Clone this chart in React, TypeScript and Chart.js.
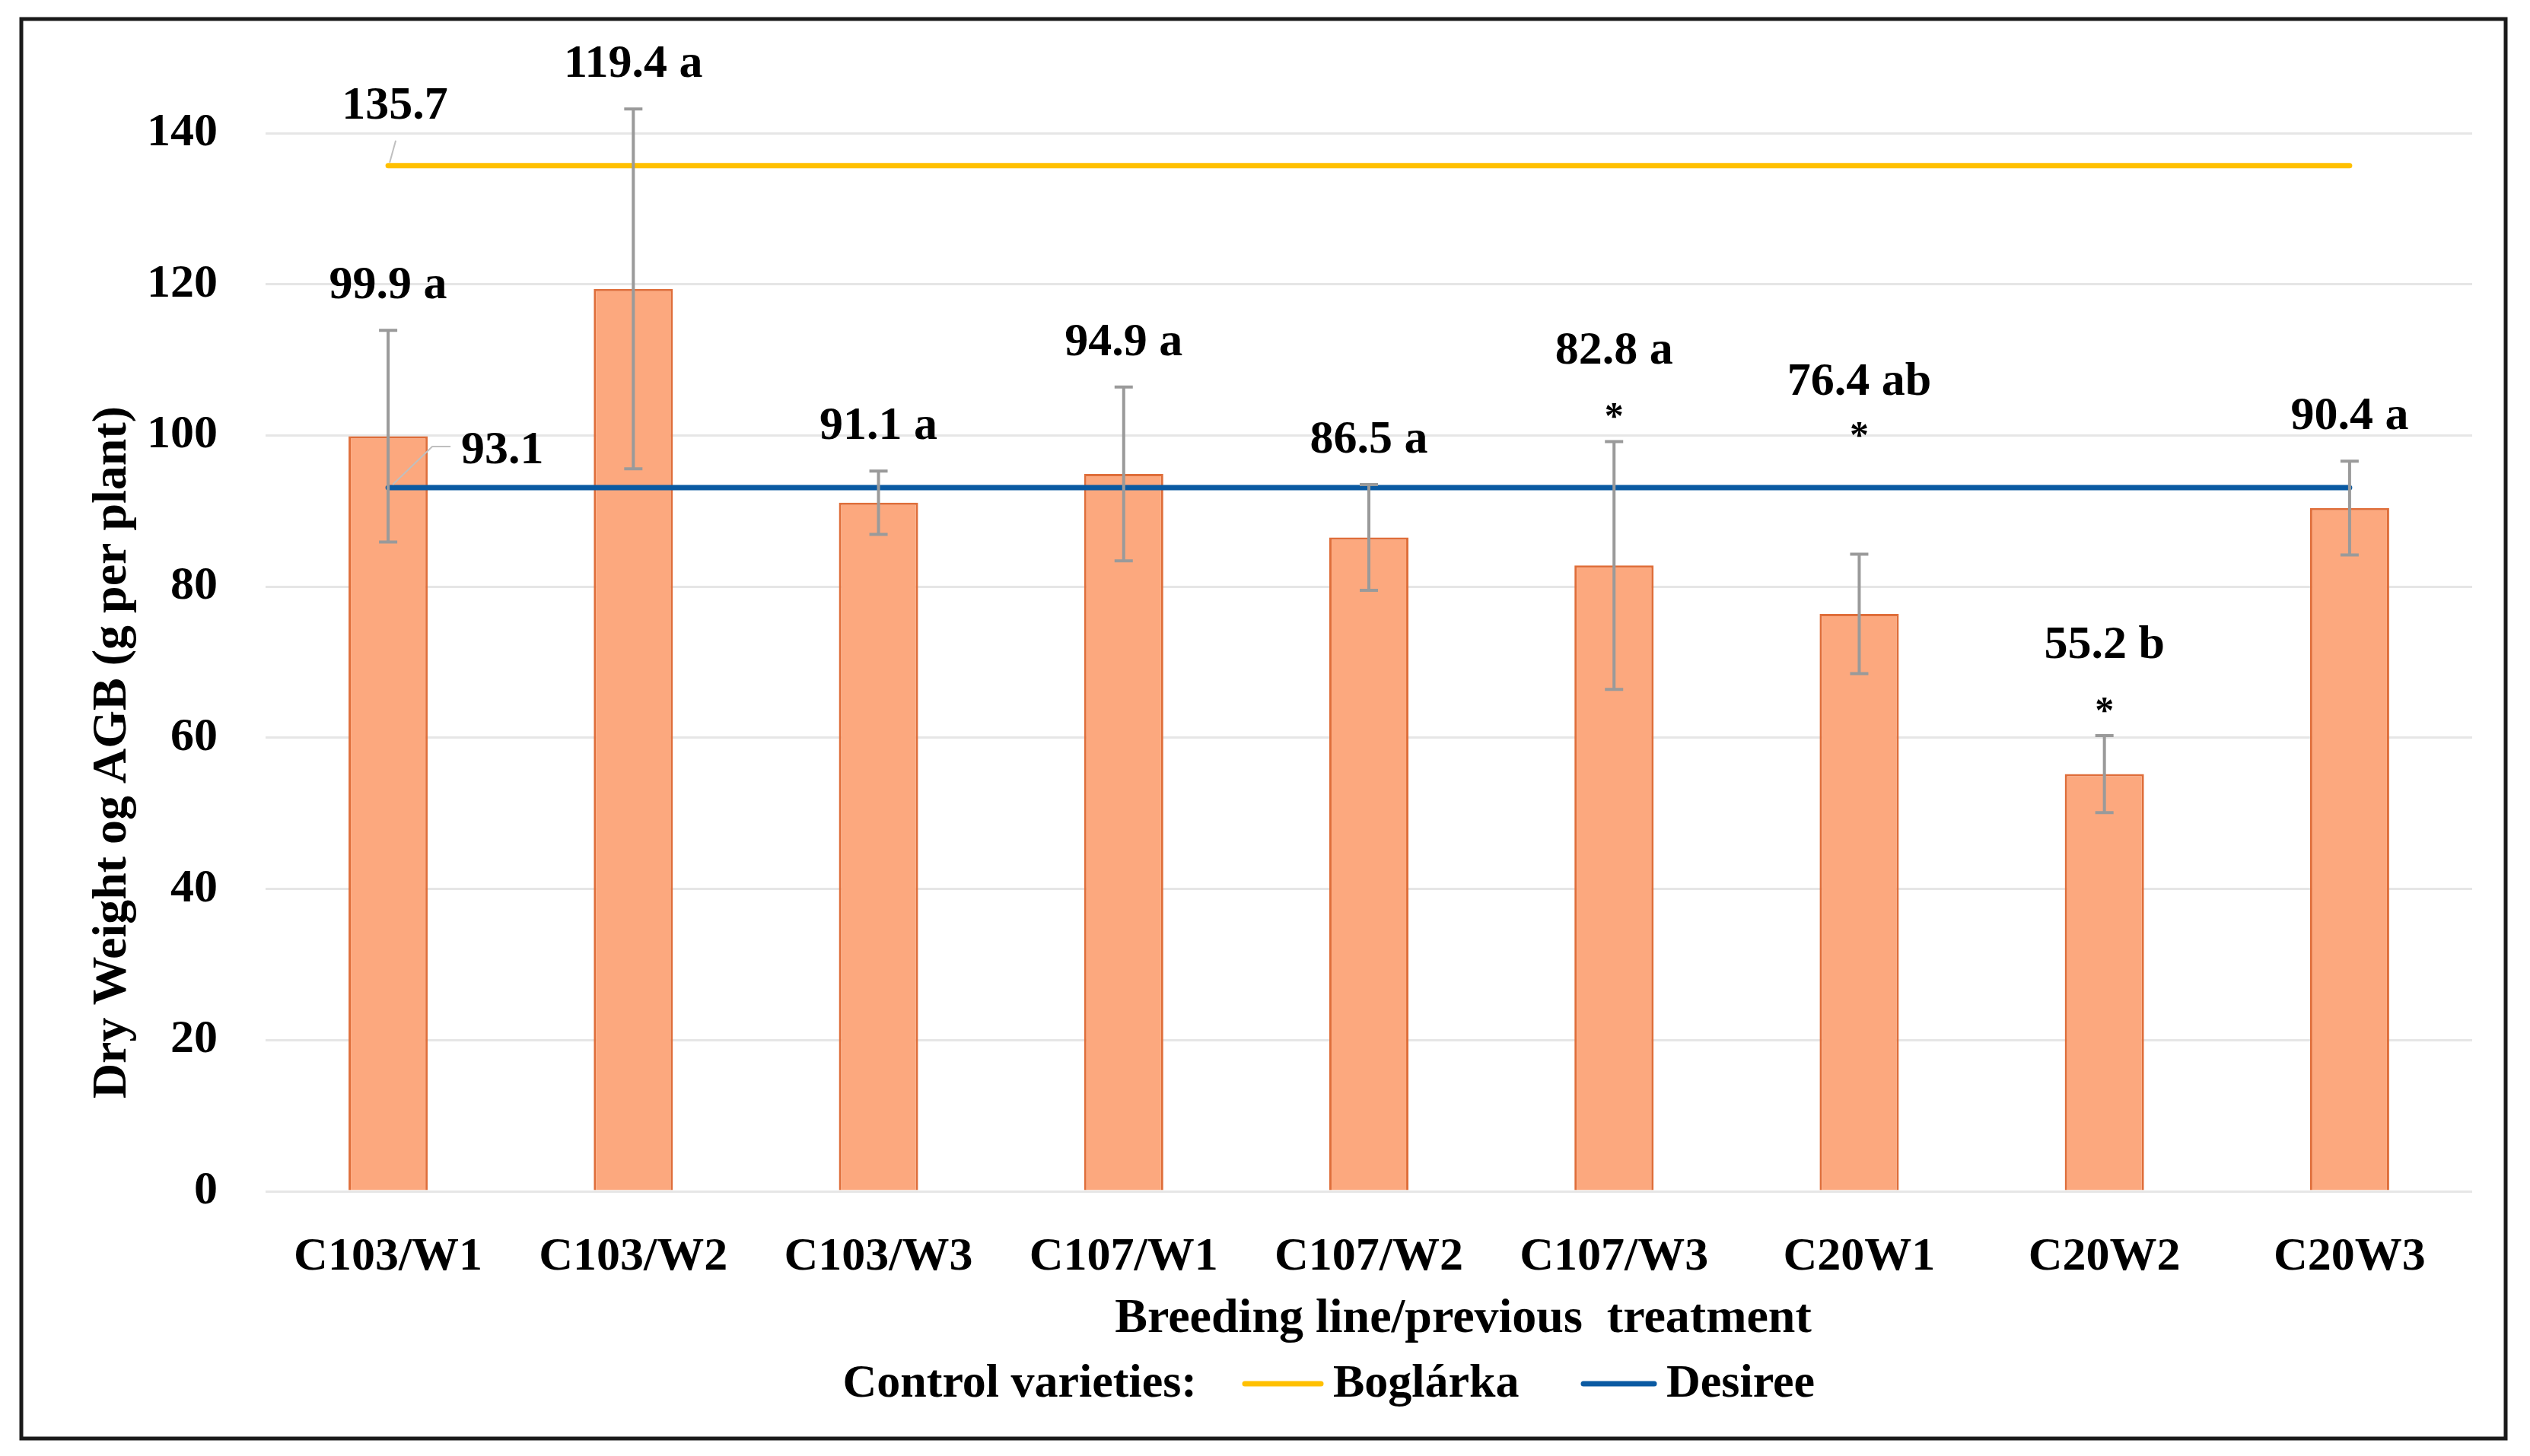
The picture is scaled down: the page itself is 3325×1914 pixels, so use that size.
import React, { useEffect, useRef } from "react";
import { Chart, registerables } from "chart.js";

Chart.register(...registerables);

const categories = ["C103/W1", "C103/W2", "C103/W3", "C107/W1", "C107/W2", "C107/W3", "C20W1", "C20W2", "C20W3"];
const dryWeight = [99.9, 119.4, 91.1, 94.9, 86.5, 82.8, 76.4, 55.2, 90.4];
const errorSize = [14.0, 23.8, 4.2, 11.5, 7.0, 16.4, 7.9, 5.1, 6.2];
const groupLetters = ["a", "a", "a", "a", "a", "a", "ab", "b", "a"];
const significant = [false, false, false, false, false, true, true, true, false];
const boglarka = [135.7, 135.7, 135.7, 135.7, 135.7, 135.7, 135.7, 135.7, 135.7];
const desiree = [93.1, 93.1, 93.1, 93.1, 93.1, 93.1, 93.1, 93.1, 93.1];
const yTicks = [0, 20, 40, 60, 80, 100, 120, 140];
const controlLabels = ["Boglárka", "Desiree"];

const W = 3325;
const H = 1914;
const FONT = "'Liberation Serif', 'Times New Roman', serif";
const YELLOW = "#FFC000";
const BLUE = "#0A5AA2";

const annotPlugin = {
  id: "annot",
  afterDatasetsDraw(chart: any) {
    const ctx = chart.ctx;
    const ys = chart.scales.y;
    const barMeta = chart.getDatasetMeta(2);
    const dMeta = chart.getDatasetMeta(1);
    ctx.save();
    // error bars
    ctx.strokeStyle = "#9A9A9A";
    ctx.lineWidth = 4;
    barMeta.data.forEach((bar: any, i: number) => {
      const x = bar.x;
      const yt = ys.getPixelForValue(dryWeight[i] + errorSize[i]);
      const yb = ys.getPixelForValue(dryWeight[i] - errorSize[i]);
      ctx.beginPath();
      ctx.moveTo(x, yt);
      ctx.lineTo(x, yb);
      ctx.moveTo(x - 12, yt);
      ctx.lineTo(x + 12, yt);
      ctx.moveTo(x - 12, yb);
      ctx.lineTo(x + 12, yb);
      ctx.stroke();
    });
    // value labels (moved above the Desiree line when they would collide with it)
    ctx.fillStyle = "#000";
    ctx.textAlign = "center";
    ctx.textBaseline = "middle";
    barMeta.data.forEach((bar: any, i: number) => {
      const x = bar.x;
      const yt = ys.getPixelForValue(dryWeight[i] + errorSize[i]);
      const lineY = dMeta.data[i].y;
      const text = `${dryWeight[i].toFixed(1)} ${groupLetters[i]}`;
      ctx.font = `bold 62px ${FONT}`;
      if (significant[i]) {
        let starY = yt - 30;
        let labelY = yt - 118;
        if (labelY > lineY - 40 && labelY < lineY + 80) {
          starY = lineY - 66;
          labelY = starY - 72;
        }
        ctx.fillText(text, x, labelY);
        ctx.font = `bold 50px ${FONT}`;
        ctx.fillText("*", x, starY);
      } else {
        ctx.fillText(text, x, yt - 58);
      }
    });
    // control line labels with leader lines
    const bp = chart.getDatasetMeta(0).data[0];
    const dp = dMeta.data[0];
    ctx.strokeStyle = "#BFBFBF";
    ctx.lineWidth = 2;
    ctx.beginPath();
    ctx.moveTo(bp.x + 10, bp.y - 33);
    ctx.lineTo(bp.x + 2, bp.y - 4);
    ctx.stroke();
    ctx.beginPath();
    ctx.moveTo(dp.x + 6, dp.y - 4);
    ctx.lineTo(dp.x + 58, dp.y - 54);
    ctx.lineTo(dp.x + 82, dp.y - 54);
    ctx.stroke();
    ctx.font = `bold 62px ${FONT}`;
    ctx.textAlign = "center";
    ctx.fillText(boglarka[0].toFixed(1), bp.x + 9, bp.y - 78);
    ctx.textAlign = "left";
    ctx.fillText(desiree[0].toFixed(1), dp.x + 96, dp.y - 48);
    ctx.restore();
  },
  afterDraw(chart: any) {
    const ctx = chart.ctx;
    ctx.save();
    ctx.fillStyle = "#000";
    ctx.textAlign = "center";
    ctx.textBaseline = "middle";
    // y axis title
    ctx.font = `bold 64px ${FONT}`;
    ctx.save();
    ctx.translate(148, 989);
    ctx.rotate(-Math.PI / 2);
    ctx.fillText("Dry Weight og AGB (g per plant)", 0, 0);
    ctx.restore();
    // x axis title
    ctx.font = `bold 64px ${FONT}`;
    ctx.fillText("Breeding line/previous  treatment", 1923, 1734);
    // legend
    ctx.font = `bold 62px ${FONT}`;
    ctx.textAlign = "right";
    ctx.fillText("Control varieties:", 1573, 1820);
    ctx.textAlign = "left";
    ctx.lineCap = "round";
    ctx.lineWidth = 7;
    ctx.strokeStyle = YELLOW;
    ctx.beginPath();
    ctx.moveTo(1636, 1819);
    ctx.lineTo(1736, 1819);
    ctx.stroke();
    ctx.fillText(controlLabels[0], 1752, 1820);
    ctx.strokeStyle = BLUE;
    ctx.beginPath();
    ctx.moveTo(2081, 1819);
    ctx.lineTo(2174, 1819);
    ctx.stroke();
    ctx.fillText(controlLabels[1], 2190, 1820);
    // outer border
    ctx.lineCap = "butt";
    ctx.strokeStyle = "#1A1A1A";
    ctx.lineWidth = 5;
    ctx.strokeRect(28, 25, 3265, 1866);
    ctx.restore();
  },
};

export default function App() {
  const ref = useRef<HTMLCanvasElement | null>(null);
  useEffect(() => {
    if (!ref.current) return;
    const chart = new Chart(ref.current, {
      type: "bar",
      data: {
        labels: categories,
        datasets: [
          {
            type: "line",
            label: controlLabels[0],
            data: boglarka,
            borderColor: YELLOW,
            backgroundColor: YELLOW,
            borderWidth: 7,
            borderCapStyle: "round",
            pointRadius: 0,
            order: 1,
          } as any,
          {
            type: "line",
            label: controlLabels[1],
            data: desiree,
            borderColor: BLUE,
            backgroundColor: BLUE,
            borderWidth: 7,
            borderCapStyle: "round",
            pointRadius: 0,
            order: 1,
          } as any,
          {
            type: "bar",
            label: "Dry weight",
            data: dryWeight,
            backgroundColor: "#FCA87E",
            borderColor: "#DF6E3A",
            borderWidth: 3,
            categoryPercentage: 1,
            barPercentage: 0.323,
            order: 2,
          } as any,
        ],
      },
      options: {
        responsive: false,
        animation: false,
        devicePixelRatio: 1,
        layout: { padding: { left: 0, right: 76, top: 175, bottom: 0 } },
        plugins: {
          legend: { display: false },
          tooltip: { enabled: false },
        },
        scales: {
          x: {
            grid: { display: false, drawTicks: false },
            border: { display: false },
            ticks: {
              color: "#000",
              font: { family: FONT, size: 62, weight: "bold" },
              padding: 50,
              maxRotation: 0,
              autoSkip: false,
            },
            afterFit: (s: any) => {
              s.height = 1914 - 1566;
            },
          },
          y: {
            min: 0,
            max: 140,
            grid: { color: "#E6E6E6", lineWidth: 3, drawTicks: false },
            border: { display: false },
            ticks: {
              color: "#000",
              font: { family: FONT, size: 62, weight: "bold" },
              padding: 63,
            },
            afterBuildTicks: (s: any) => {
              s.ticks = yTicks.map((v) => ({ value: v }));
            },
            afterFit: (s: any) => {
              s.width = 349;
            },
          },
        },
      },
      plugins: [annotPlugin],
    });
    return () => chart.destroy();
  }, []);
  return (
    <div style={{ position: "fixed", left: 0, top: 0, width: W, height: H, background: "#fff" }}>
      <canvas ref={ref} width={W} height={H} style={{ width: W, height: H, display: "block" }} />
    </div>
  );
}
